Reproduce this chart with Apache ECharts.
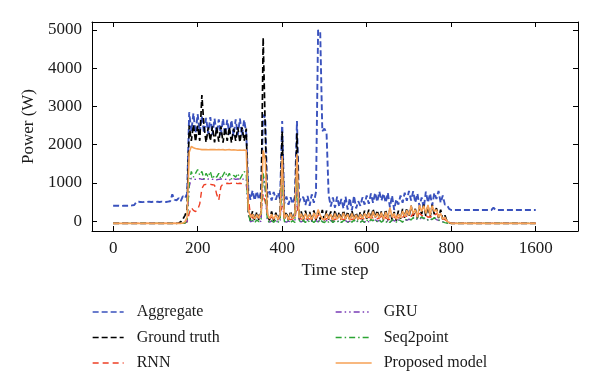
<!DOCTYPE html>
<html><head><meta charset="utf-8">
<script src="https://cdn.jsdelivr.net/npm/echarts@6/dist/echarts.min.js"></script>
<style>html,body{margin:0;padding:0;background:#fff}#c{width:600px;height:392px}</style>
</head><body><div id="c"></div>
<script>
// sample spacing in time steps (index i -> time step i*STEP)
const STEP = 5;

const aggregate = [
  400,400,405,400,395,400,405,400,400,410,
  420,500,505,500,495,505,500,510,500,505,
  500,505,500,510,505,500,510,520,700,560,
  540,600,520,650,600,720,2850,2350,2820,2300,
  2800,2320,2750,2300,2700,2280,2720,2260,2680,2280,
  2660,2250,2680,2240,2650,2260,2640,2230,2660,2250,
  2680,2240,2650,2300,800,560,800,540,780,560,
  780,2780,2700,620,780,540,760,560,740,580,
  2620,460,640,430,620,450,640,2620,480,640,
  620,420,660,400,700,480,760,5000,4950,2350,
  2420,2300,680,380,620,350,640,380,580,330,
  640,300,600,280,660,330,520,400,620,430,
  670,450,720,480,740,500,770,540,720,480,
  740,360,670,290,570,430,670,480,740,530,
  790,540,780,480,720,380,620,330,770,480,
  720,400,740,580,790,480,670,430,420,320,
  290,290,290,290,290,290,290,290,290,290,
  290,290,290,290,290,290,290,290,290,290,
  350,290,290,290,290,290,290,290,290,290,
  290,290,290,290,290,290,290,290,290,290,
  290
];
const groundTruth = [
  -60,-60,-60,-60,-60,-60,-60,-60,-60,-60,
  -60,-60,-60,-60,-60,-60,-60,-60,-60,-60,
  -60,-60,-60,-60,-60,-60,-60,-60,-60,-60,
  -60,-50,-20,50,150,300,2500,2100,2520,2080,
  2500,2100,3300,2480,2060,2450,2100,2480,2060,2450,
  2080,2480,2050,2450,2100,2460,2050,2420,2100,2450,
  2060,2450,2100,2420,220,20,260,10,240,30,
  230,4800,2400,150,20,250,10,220,30,200,
  2350,30,240,10,260,30,220,2300,40,250,
  20,270,40,240,10,280,30,260,40,290,
  20,270,40,250,10,280,30,240,20,280,
  40,250,10,270,30,220,20,240,40,270,
  60,300,40,320,80,280,60,260,30,300,
  20,320,40,240,10,270,60,320,80,340,
  100,400,130,320,80,370,180,430,130,400,
  100,420,180,340,80,300,40,150,0,-40,
  -60,-60,-60,-60,-60,-60,-60,-60,-60,-60,
  -60,-60,-60,-60,-60,-60,-60,-60,-60,-60,
  -60,-60,-60,-60,-60,-60,-60,-60,-60,-60,
  -60,-60,-60,-60,-60,-60,-60,-60,-60,-60,
  -60
];
const rnn = [
  -60,-60,-60,-60,-60,-60,-60,-60,-60,-60,
  -60,-60,-60,-60,-60,-60,-60,-60,-60,-60,
  -60,-60,-60,-60,-60,-60,-60,-60,-60,-60,
  -60,-60,-60,-60,-50,-20,200,350,280,250,
  300,450,850,950,960,950,960,950,940,700,
  550,900,970,980,990,980,990,980,990,980,
  990,980,970,950,600,150,80,100,120,80,
  250,700,500,200,80,100,60,80,50,100,
  400,150,50,60,40,50,60,400,100,50,
  60,40,80,50,60,40,70,150,120,60,
  40,60,50,80,60,40,70,50,60,40,
  60,80,50,40,60,80,100,60,80,50,
  80,100,120,80,100,60,80,120,150,80,
  60,40,80,100,120,80,60,100,150,120,
  150,120,200,150,180,200,150,120,150,100,
  120,100,150,200,120,80,60,40,0,-40,
  -60,-60,-60,-60,-60,-60,-60,-60,-60,-60,
  -60,-60,-60,-60,-60,-60,-60,-60,-60,-60,
  -60,-60,-60,-60,-60,-60,-60,-60,-60,-60,
  -60,-60,-60,-60,-60,-60,-60,-60,-60,-60,
  -60
];
const gru = [
  -60,-60,-60,-60,-60,-60,-60,-60,-60,-60,
  -60,-60,-60,-60,-60,-60,-60,-60,-60,-60,
  -60,-60,-60,-60,-60,-60,-60,-60,-60,-60,
  -60,-60,-60,-60,-50,-20,900,1120,1100,1090,
  1100,1110,1090,1100,1080,1100,1110,1090,1100,1080,
  1090,1100,1110,1090,1100,1080,1100,1110,1090,1100,
  1100,1090,1110,1100,150,-20,10,-30,20,-20,
  0,1200,800,10,-30,0,-20,10,-30,20,
  1000,-10,-30,0,-20,10,-30,1000,0,-20,
  10,-30,20,-20,0,-30,10,-20,30,-10,
  -30,10,-20,20,-30,0,-20,10,-30,0,
  10,-30,0,-20,20,-30,10,-20,0,-30,
  20,-20,30,0,40,-10,20,-20,10,-30,
  0,-30,20,10,-20,30,0,-20,40,20,
  50,20,80,30,60,40,100,60,80,20,
  60,30,80,40,20,0,-20,-40,-50,-60,
  -60,-60,-60,-60,-60,-60,-60,-60,-60,-60,
  -60,-60,-60,-60,-60,-60,-60,-60,-60,-60,
  -60,-60,-60,-60,-60,-60,-60,-60,-60,-60,
  -60,-60,-60,-60,-60,-60,-60,-60,-60,-60,
  -60
];
const seq2point = [
  -60,-60,-60,-60,-60,-60,-60,-60,-60,-60,
  -60,-60,-60,-60,-60,-60,-60,-60,-60,-60,
  -60,-60,-60,-60,-60,-60,-60,-60,-60,-60,
  -60,-60,-60,-60,-50,-20,1000,1300,1150,1250,
  1350,1200,1300,1100,1250,1150,1300,1100,1200,1150,
  1250,1100,1200,1300,1150,1250,1100,1200,1150,1250,
  1100,1200,1300,1250,200,-30,20,-40,30,-20,
  50,1250,900,30,-40,10,-30,20,-40,30,
  1150,0,-40,20,-30,10,-40,1100,20,-30,
  20,-40,30,-30,10,-40,20,-30,40,-20,
  -40,20,-30,30,-40,10,-30,20,-40,10,
  20,-40,10,-30,30,-40,20,-30,10,-40,
  30,-30,40,10,50,-20,30,-30,20,-40,
  10,-40,30,20,-30,40,10,-30,50,30,
  60,30,90,40,70,50,110,70,90,30,
  70,40,90,50,30,10,-20,-40,-50,-60,
  -60,-60,-60,-60,-60,-60,-60,-60,-60,-60,
  -60,-60,-60,-60,-60,-60,-60,-60,-60,-60,
  -60,-60,-60,-60,-60,-60,-60,-60,-60,-60,
  -60,-60,-60,-60,-60,-60,-60,-60,-60,-60,
  -60
];
const proposed = [
  -60,-60,-60,-60,-60,-60,-60,-60,-60,-60,
  -60,-60,-60,-60,-60,-60,-60,-60,-60,-60,
  -60,-60,-60,-60,-60,-60,-60,-60,-60,-60,
  -60,-60,-60,-50,-20,100,1800,1950,1920,1900,
  1890,1880,1870,1875,1870,1865,1870,1875,1870,1865,
  1870,1865,1870,1860,1865,1870,1860,1865,1860,1855,
  1860,1855,1860,1850,300,100,180,60,170,80,
  200,1850,1600,200,60,180,50,160,40,150,
  1700,60,180,40,200,60,170,1750,80,190,
  50,200,60,180,40,210,70,300,150,60,
  40,200,60,180,30,200,50,170,40,210,
  60,180,30,200,50,160,40,180,60,200,
  80,220,60,250,100,200,80,220,50,240,
  60,350,100,200,50,180,80,260,120,280,
  150,400,200,300,100,420,250,400,200,420,
  150,400,250,300,100,200,50,100,0,-40,
  -60,-60,-60,-60,-60,-60,-60,-60,-60,-60,
  -60,-60,-60,-60,-60,-60,-60,-60,-60,-60,
  -60,-60,-60,-60,-60,-60,-60,-60,-60,-60,
  -60,-60,-60,-60,-60,-60,-60,-60,-60,-60,
  -60
];

const seriesNames = ['Aggregate','Ground truth','RNN','GRU','Seq2point','Proposed model'];
const xTickValues = [0,200,400,600,800,1000];
const xTickLabels = ['0','200','400','600','800','1600'];
const yTickValues = [0,1000,2000,3000,4000,5000];
const yTickLabels = ['0','1000','2000','3000','4000','5000'];

const FONT = 'Liberation Serif';
const TXT = '#1a1a1a';

function mk(name, vals, color, dash, width) {
  return {
    name, type: 'line', symbol: 'none', showSymbol: false, animation: false,
    data: vals.map((v, i) => [i * STEP, v]),
    lineStyle: { color, width, type: dash },
    itemStyle: { color }
  };
}

const chart = echarts.init(document.getElementById('c'), null, { renderer: 'canvas' });
const axisLine = { show: true, onZero: false, lineStyle: { color: '#000', width: 1 } };
const legendCommon = {
  orient: 'vertical', top: 299, itemHeight: 14, itemGap: 9.5,
  itemStyle: { opacity: 0, borderWidth: 0 },
  lineStyle: { width: 1.3 }
};
chart.setOption({
  backgroundColor: '#fff',
  animation: false,
  grid: { left: 92, right: 22, top: 22, bottom: 161 },
  legend: [
    Object.assign({}, legendCommon, { data: seriesNames.slice(0, 3), left: 87, itemWidth: 31,
      textStyle: { fontFamily: FONT, fontSize: 16, color: TXT, padding: [0, 0, 0, 8] } }),
    Object.assign({}, legendCommon, { data: seriesNames.slice(3), left: 330, itemWidth: 36,
      textStyle: { fontFamily: FONT, fontSize: 16, color: TXT, padding: [0, 0, 0, 7] } })
  ],
  xAxis: [
    { type: 'value', min: -50, max: 1100, position: 'bottom', axisLine,
      axisTick: { show: true, inside: true, length: 5, customValues: xTickValues, lineStyle: { color: '#000' } },
      axisLabel: { customValues: xTickValues, formatter: v => xTickLabels[xTickValues.indexOf(v)],
        fontFamily: FONT, fontSize: 17, color: TXT, margin: 9 },
      splitLine: { show: false },
      name: 'Time step', nameLocation: 'middle', nameGap: 25,
      nameTextStyle: { fontFamily: FONT, fontSize: 17, color: TXT } },
    { type: 'value', min: -50, max: 1100, position: 'top', axisLine,
      axisTick: { show: true, inside: true, length: 5, customValues: xTickValues, lineStyle: { color: '#000' } },
      axisLabel: { show: false }, splitLine: { show: false } }
  ],
  yAxis: [
    { type: 'value', min: -260, max: 5210, position: 'left', axisLine,
      axisTick: { show: true, inside: true, length: 5, customValues: yTickValues, lineStyle: { color: '#000' } },
      axisLabel: { customValues: yTickValues, formatter: v => yTickLabels[yTickValues.indexOf(v)],
        fontFamily: FONT, fontSize: 17, color: TXT, margin: 10 },
      splitLine: { show: false },
      name: 'Power (W)', nameLocation: 'middle', nameGap: 50,
      nameTextStyle: { fontFamily: FONT, fontSize: 17, color: TXT } },
    { type: 'value', min: -260, max: 5210, position: 'right', axisLine,
      axisTick: { show: true, inside: true, length: 5, customValues: yTickValues, lineStyle: { color: '#000' } },
      axisLabel: { show: false }, splitLine: { show: false } }
  ],
  series: [
    mk(seriesNames[0], aggregate, '#3a52bd', [6, 3], 1.9),
    mk(seriesNames[1], groundTruth, '#000000', [6, 3], 1.7),
    mk(seriesNames[2], rnn, '#ee3f25', [6, 4], 1.4),
    mk(seriesNames[3], gru, '#7a3db6', [6, 3, 1.5, 3, 1.5, 3], 1.4),
    mk(seriesNames[4], seq2point, '#2ca534', [6, 3, 1.5, 3], 1.4),
    mk(seriesNames[5], proposed, '#f6a155', 'solid', 1.6)
  ]
});
</script>
</body></html>
